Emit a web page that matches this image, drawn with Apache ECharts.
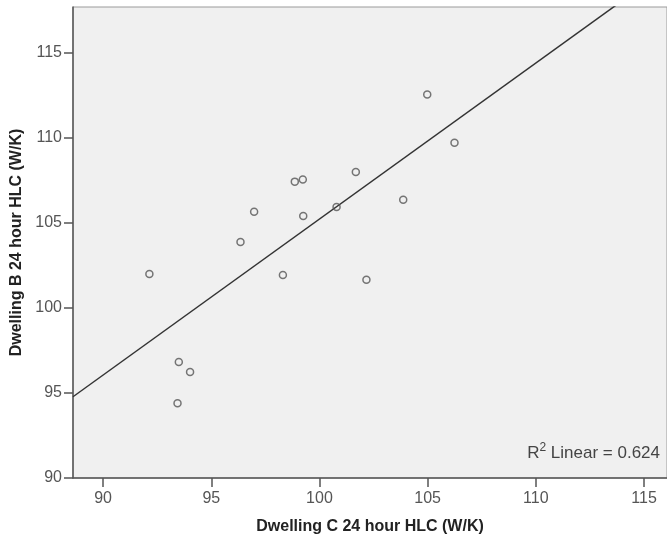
<!DOCTYPE html>
<html>
<head>
<meta charset="utf-8">
<script src="https://cdn.jsdelivr.net/npm/echarts@6/dist/echarts.min.js"></script>
<style>
html,body{margin:0;padding:0;background:#fff;}
#main{width:667px;height:540px;}
</style>
</head>
<body>
<div id="main"></div>
<script>
// Dwelling C (x) vs Dwelling B (y), 24 hour HLC (W/K)
const dwellingC = [92.14, 96.35, 96.98, 98.31, 98.86, 99.23, 99.25, 104.98, 106.24, 103.87, 101.68, 100.79, 102.17, 93.50, 94.02, 93.44];
const dwellingB = [102.0, 103.88, 105.66, 101.94, 107.43, 107.55, 105.41, 112.55, 109.71, 106.37, 108.0, 105.94, 101.66, 96.82, 96.24, 94.39];
const xTicks = [90, 95, 100, 105, 110, 115];
const yTicks = [90, 95, 100, 105, 110, 115];
const fitSlope = 0.9176;
const fitIntercept = 13.47;
const rSquared = '0.624';
const xName = 'Dwelling C 24 hour HLC (W/K)';
const yName = 'Dwelling B 24 hour HLC (W/K)';

const xMin = 88.61, xMax = 116.06, yMin = 90, yMax = 117.7;

const points = dwellingC.map((x, i) => [x, dwellingB[i]]);
const fitLine = [[xMin, fitSlope * xMin + fitIntercept], [xMax, fitSlope * xMax + fitIntercept]];

const font = '"Liberation Sans", Arial, sans-serif';
const chart = echarts.init(document.getElementById('main'), null, {renderer: 'canvas'});
chart.setOption({
  animation: false,
  backgroundColor: '#fff',
  grid: {
    left: 73, top: 7, right: 0, bottom: 62,
    show: true, backgroundColor: '#f0f0f0', borderColor: '#9a9a9a', borderWidth: 1
  },
  xAxis: {
    type: 'value', min: xMin, max: xMax,
    name: xName, nameLocation: 'middle', nameGap: 41,
    nameTextStyle: {fontFamily: font, fontWeight: 'bold', fontSize: 16, color: '#222'},
    axisLine: {show: true, lineStyle: {color: '#555', width: 1.5}},
    axisTick: {show: true, length: 9, customValues: xTicks, lineStyle: {color: '#555', width: 1.5}},
    axisLabel: {customValues: xTicks, margin: 13, fontFamily: font, fontSize: 16, color: '#555'},
    splitLine: {show: false}
  },
  yAxis: {
    type: 'value', min: yMin, max: yMax,
    name: yName, nameLocation: 'middle', nameGap: 47, nameRotate: 90,
    nameTextStyle: {fontFamily: font, fontWeight: 'bold', fontSize: 16, color: '#222'},
    axisLine: {show: true, lineStyle: {color: '#555', width: 1.5}},
    axisTick: {show: true, length: 9, customValues: yTicks, lineStyle: {color: '#555', width: 1.5}},
    axisLabel: {customValues: yTicks, margin: 11, fontFamily: font, fontSize: 16, color: '#555'},
    splitLine: {show: false}
  },
  series: [
    {
      type: 'line', data: fitLine, showSymbol: false, symbol: 'none', clip: true,
      lineStyle: {color: '#333', width: 1.5}, silent: true, z: 2
    },
    {
      type: 'scatter', data: points, symbol: 'circle', symbolSize: 7,
      itemStyle: {color: 'rgba(0,0,0,0)', borderColor: '#555', borderWidth: 1.5}, z: 3
    }
  ],
  graphic: [{
    type: 'text', right: 7, top: 442, z: 10,
    style: {
      text: '{a|R}{s|2}{a| Linear = ' + rSquared + '}',
      rich: {
        a: {fontFamily: font, fontSize: 17, fill: '#444', verticalAlign: 'bottom', lineHeight: 20},
        s: {fontFamily: font, fontSize: 12, fill: '#444', verticalAlign: 'top', lineHeight: 20}
      }
    }
  }]
});
</script>
</body>
</html>
